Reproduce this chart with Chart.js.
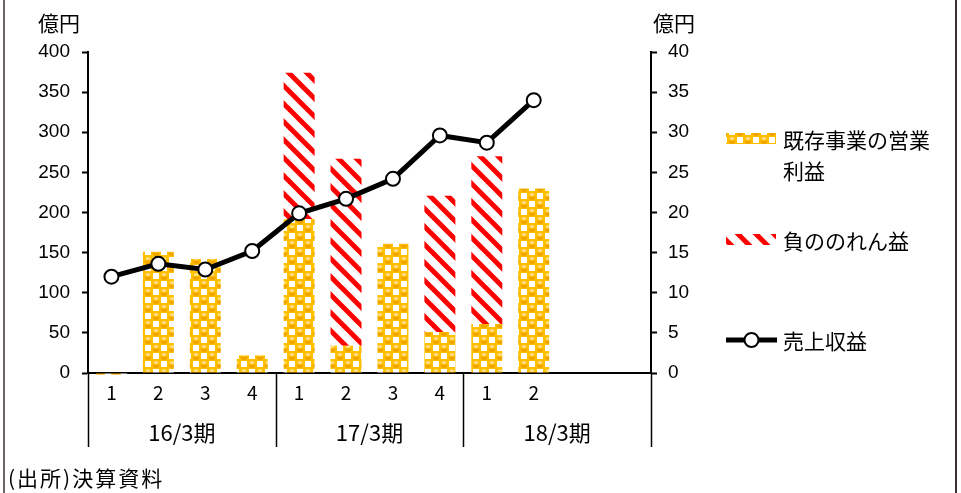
<!DOCTYPE html>
<html><head><meta charset="utf-8">
<script src="https://cdn.jsdelivr.net/npm/chart.js@4/dist/chart.umd.min.js"></script>
<style>html,body{margin:0;padding:0;background:#fff;} canvas{display:block;}</style>
</head><body>
<canvas id="c" width="961" height="493"></canvas>
<script>
// ---- data ----
const quarterLabels = ['1','2','3','4','1','2','3','4','1','2','',''];
const fiscalGroups = ['16/3期','17/3期','18/3期'];
const groupStarts = [0,4,8];
const groupSizes = [4,4,4];
const existingOpProfit = [-2,151,142,22,192,34,161,51,61,230];
const negativeGoodwill = [null,null,null,null,182,233,null,170,209,null];
const revenue = [12.0,13.6,12.9,15.2,19.9,21.7,24.2,29.6,28.7,34.0];
const seriesNames = ['既存事業の営業利益','負ののれん益','売上収益'];
const leftAxis = {min:0, max:400, step:50};
const rightAxis = {min:0, max:40, step:5};
const unitLabel = '億円';
const sourceNote = '(出所)決算資料';

const CJK = '"Noto Sans CJK JP", sans-serif';
const NUM = '"Liberation Sans", Arial, sans-serif';

function orangePattern(){
  const c=document.createElement('canvas'); c.width=16; c.height=16;
  const g=c.getContext('2d');
  g.fillStyle='#FFC000'; g.fillRect(0,0,16,16);
  g.fillStyle='#FFFFFF';
  g.fillRect(9,1,6,6); g.fillRect(1,9,6,6);
  g.fillStyle='#F0A500';
  g.beginPath(); g.arc(4,4.5,3.6,0.1,Math.PI-0.1); g.fill();
  g.beginPath(); g.arc(12,12.5,3.6,0.1,Math.PI-0.1); g.fill();
  g.fillStyle='#FFE7A0';
  g.beginPath(); g.ellipse(4,2.6,2.4,1.2,0,0,Math.PI*2); g.fill();
  g.beginPath(); g.ellipse(12,10.6,2.4,1.2,0,0,Math.PI*2); g.fill();
  return g.createPattern(c,'repeat');
}
function redPattern(){
  const c=document.createElement('canvas'); c.width=18; c.height=18;
  const g=c.getContext('2d');
  g.fillStyle='#FFFFFF'; g.fillRect(0,0,18,18);
  g.strokeStyle='#FF0000'; g.lineWidth=5;
  for(const k of [-18,0,18]){
    g.beginPath(); g.moveTo(k-6,-6); g.lineTo(k+24,24); g.stroke();
  }
  return g.createPattern(c,'repeat');
}
const cv=document.getElementById('c');
const patO=orangePattern();
const patR=redPattern();

const decor = {
  id:'decor',
  afterDraw(chart){
    const c=chart.ctx, x=chart.scales.x, area=chart.chartArea;
    c.save();
    // outer frame
    c.strokeStyle='#3a3232';
    c.lineWidth=1.5; c.beginPath(); c.moveTo(4,0); c.lineTo(4,493); c.stroke();
    c.lineWidth=2; c.beginPath(); c.moveTo(956,0); c.lineTo(956,493); c.stroke();
    // unit labels
    c.fillStyle='#000'; c.font='21px '+CJK; c.textBaseline='middle'; c.textAlign='center';
    c.fillText(unitLabel, 59, 23);
    c.fillText(unitLabel, 674, 23);
    // group separators & labels
    const n=quarterLabels.length;
    const boundary=i=> i<=0? x.left : (i>=n? x.right : (x.getPixelForValue(i-1)+x.getPixelForValue(i))/2);
    c.strokeStyle='#000'; c.lineWidth=1.5;
    const bounds=[];
    groupStarts.forEach((s,gi)=>{bounds.push(s); bounds.push(s+groupSizes[gi]);});
    [...new Set(bounds)].forEach(b=>{
      const px=Math.round(boundary(b))+0.5;
      c.beginPath(); c.moveTo(px,area.bottom); c.lineTo(px,447); c.stroke();
    });
    c.font='22px '+CJK; c.textAlign='center';
    fiscalGroups.forEach((g,gi)=>{
      const l=boundary(groupStarts[gi]), r=boundary(groupStarts[gi]+groupSizes[gi]);
      c.fillText(g,(l+r)/2,433);
    });
    // source
    c.font='21px '+CJK;
    c.textAlign='left';
    if('letterSpacing' in c) c.letterSpacing='2px';
    c.fillText(sourceNote, 8, 478);
    if('letterSpacing' in c) c.letterSpacing='0px';
    // legend
    const lx=726, tx=783;
    c.font='21px '+CJK;
    const wrap=(t,maxW)=>{const lines=[];let cur='';for(const ch of t){if(c.measureText(cur+ch).width>maxW&&cur){lines.push(cur);cur=ch;}else cur+=ch;}if(cur)lines.push(cur);return lines;};
    const ds=chart.data.datasets;
    const items=[{i:0,y:139},{i:1,y:240},{i:2,y:340}];
    items.forEach(it=>{
      const d=ds[it.i];
      if(d.type==='line'){
        c.strokeStyle=d.borderColor; c.lineWidth=d.borderWidth;
        c.beginPath(); c.moveTo(lx,it.y); c.lineTo(lx+51,it.y); c.stroke();
        c.fillStyle=d.pointBackgroundColor; c.lineWidth=d.pointBorderWidth; c.strokeStyle=d.pointBorderColor;
        c.beginPath(); c.arc(lx+25.5,it.y,d.pointRadius,0,Math.PI*2); c.fill(); c.stroke();
      } else {
        c.fillStyle=d.backgroundColor; c.fillRect(lx,it.y-6,50,11);
      }
      c.fillStyle='#000'; c.textAlign='left'; c.textBaseline='middle';
      wrap(d.label,158).forEach((ln,k)=>c.fillText(ln,tx,it.y+1+k*31));
    });
    c.restore();
  }
};

new Chart(cv,{
  data:{
    labels:quarterLabels,
    datasets:[
      {type:'bar',label:seriesNames[0],data:existingOpProfit,backgroundColor:patO,yAxisID:'y',stack:'s',
       categoryPercentage:1,barPercentage:0.66,order:1,clip:false,borderWidth:0},
      {type:'bar',label:seriesNames[1],data:negativeGoodwill,backgroundColor:patR,yAxisID:'y',stack:'s',
       categoryPercentage:1,barPercentage:0.66,order:2,borderWidth:0},
      {type:'line',label:seriesNames[2],data:revenue,yAxisID:'y2',borderColor:'#000',borderWidth:5,
       pointRadius:7,pointBackgroundColor:'#fff',pointBorderColor:'#000',pointBorderWidth:2,tension:0,order:0,clip:false}
    ]
  },
  options:{
    responsive:false, animation:false, devicePixelRatio:1,
    layout:{padding:{top:52,left:0,right:0,bottom:0}},
    plugins:{legend:{display:false},tooltip:{enabled:false}},
    scales:{
      x:{stacked:true,offset:true,
         grid:{display:false,drawTicks:false},
         border:{display:true,color:'#000',width:2},
         ticks:{color:'#000',font:{family:CJK,size:19},padding:8,maxRotation:0,autoSkip:false},
         afterFit:s=>{s.height=120;}},
      y:{position:'left',stacked:true,min:leftAxis.min,max:leftAxis.max,
         ticks:{stepSize:leftAxis.step,color:'#000',font:{family:NUM,size:19},padding:12},
         grid:{drawOnChartArea:false,drawTicks:true,tickLength:6,tickWidth:2,tickColor:'#000'},
         border:{color:'#000',width:2},
         afterFit:s=>{s.width=88;}},
      y2:{position:'right',min:rightAxis.min,max:rightAxis.max,
         ticks:{stepSize:rightAxis.step,color:'#000',font:{family:NUM,size:19},padding:11},
         grid:{drawOnChartArea:false,drawTicks:true,tickLength:6,tickWidth:2,tickColor:'#000'},
         border:{color:'#000',width:2},
         afterFit:s=>{s.width=310;}}
    }
  },
  plugins:[decor]
});
</script>
</body></html>
